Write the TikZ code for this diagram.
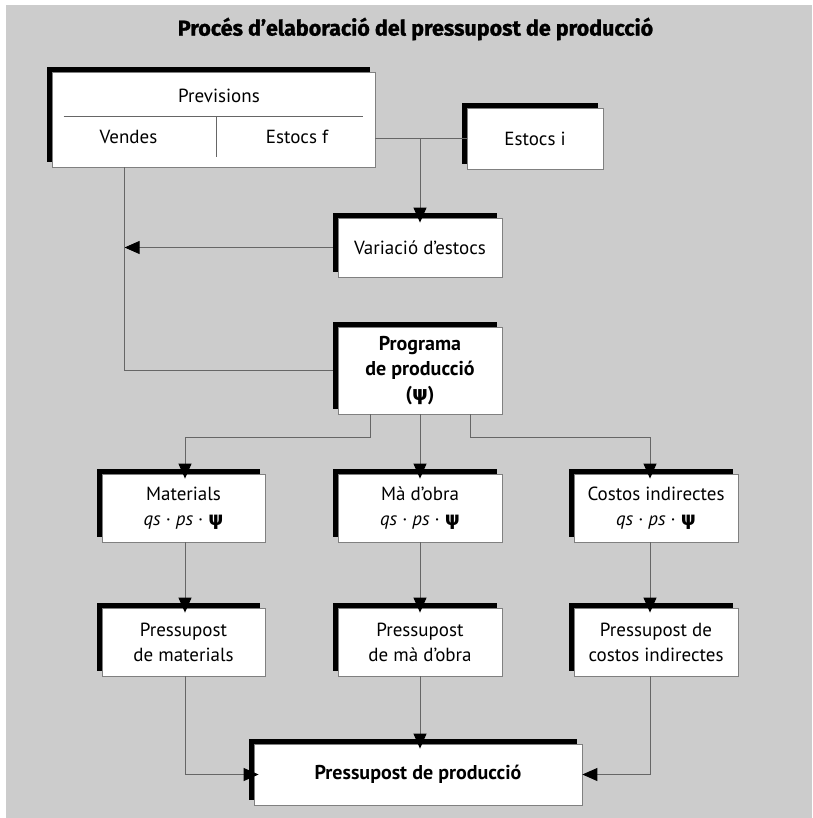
\documentclass[tikz,border=0pt]{standalone}
\usepackage{fontspec}
\setmainfont{PT Sans}
\newfontfamily\grk{DejaVu Sans}
\newfontfamily\titlefont[BoldFeatures={FakeBold=1.2}]{Fira Sans}
\usetikzlibrary{arrows.meta,calc,shadows}

% bold Greek psi used as the production variable
\newcommand{\prodvar}{{\grk\bfseries ψ}}
\newcommand{\formula}{\textit{qs}~·~\textit{ps}~·~\prodvar}

\tikzset{
  box/.style={draw=black!50, line width=0.8pt, fill=white, align=center,
    inner sep=0pt, font=\fontsize{19}{25}\selectfont,
    general shadow={fill=black, shadow xshift=-5pt, shadow yshift=5pt}},
  boldbox/.style={box, font=\fontsize{20}{25}\selectfont\bfseries},
  conn/.style={draw=black!60, line width=0.9pt},
  arr/.style={conn, -{Triangle[length=15pt,width=13pt,black]}},
  arrsh/.style={arr, shorten >=-5pt},
  lbl/.style={inner sep=0pt, font=\fontsize{19}{25}\selectfont},
}

\begin{document}
\begin{tikzpicture}[x=1pt,y=-1pt]
\useasboundingbox (0,0) rectangle (812,818);
\fill[black!20] (6,5) rectangle (812,818);

\node[font=\fontsize{21.5}{23}\selectfont\titlefont\bfseries] (title) at (415.5,29)
  {Procés d’elaboració del pressupost de producció};

% forecast box with its inner divisions
\node[box, minimum width=323pt, minimum height=95pt] (prev) at (213.5,119.5) {};
\node[lbl] (prevt) at (219,96) {Previsions};
\node[lbl] (vend) at (128.5,137) {Vendes};
\node[lbl] (estf) at (297,137) {Estocs f};
\draw[black!60, line width=0.8pt] ($(prev.north west)+(12,45)$) -- ($(prev.north east)+(-12,45)$);
\draw[black!60, line width=0.8pt] ($(prev.north west)+(165,45)$) -- ($(prev.north west)+(165,85)$);

\node[box, minimum width=136pt, minimum height=61pt] (esti) at (535,138.5) {Estocs i};
\node[box, minimum width=164pt, minimum height=59pt] (var) at (420,247.5) {Variació d’estocs};
\node[boldbox, minimum width=164pt, minimum height=87pt] (prog) at (420,370.5)
  {Programa\\de producció\\(\prodvar)};

\node[box, minimum width=163pt, minimum height=68pt] (mat) at (183.5,508) {Materials\\\formula};
\node[box, minimum width=164pt, minimum height=68pt] (mao) at (420,508) {Mà d’obra\\\formula};
\node[box, minimum width=164pt, minimum height=68pt] (cost) at (656,508) {Costos indirectes\\\formula};

\node[box, minimum width=163pt, minimum height=68pt] (pmat) at (183.5,642) {Pressupost\\de materials};
\node[box, minimum width=164pt, minimum height=68pt] (pmao) at (420,642) {Pressupost\\de mà d’obra};
\node[box, minimum width=164pt, minimum height=68pt] (pcost) at (656,642) {Pressupost de\\costos indirectes};

\node[boldbox, minimum width=328pt, minimum height=61pt] (final) at (418,774.5) {Pressupost de producció};

% connectors
\coordinate (stk) at (prev.east |- esti.west);
\draw[conn] (stk) -- (esti.west);
\coordinate (jst) at (var.north |- esti.west);
\draw[arrsh] (jst) -- (var.north);
\coordinate (vl) at ($(prev.south west)+(73,0)$);
\coordinate (vlvar) at (vl |- var.west);
\draw[arr] ($(var.west)+(-5,0)$) -- (vlvar);
\draw[conn] (vl) |- ($(prog.west)+(-5,0)$);

\draw[arrsh] ($(prog.south)+(-50,0)$) -- ++(0,23) -| ($(mat.north)+(1.5,0)$);
\draw[arrsh] (prog.south) -- (mao.north);
\draw[arrsh] ($(prog.south)+(50,0)$) -- ++(0,23) -| ($(cost.north)+(-6,0)$);

\draw[arrsh] ($(mat.south)+(1.5,0)$) -- ($(pmat.north)+(1.5,0)$);
\draw[arrsh] (mao.south) -- (pmao.north);
\draw[arrsh] ($(cost.south)+(-6,0)$) -- ($(pcost.north)+(-6,0)$);

\coordinate (fin) at (pmao.south |- final.north);
\draw[arrsh] ($(pmat.south)+(1.5,0)$) |- (final.west);
\draw[arrsh] (pmao.south) -- (fin);
\draw[arr] ($(pcost.south)+(-6,0)$) |- (final.east);
\end{tikzpicture}
\end{document}
